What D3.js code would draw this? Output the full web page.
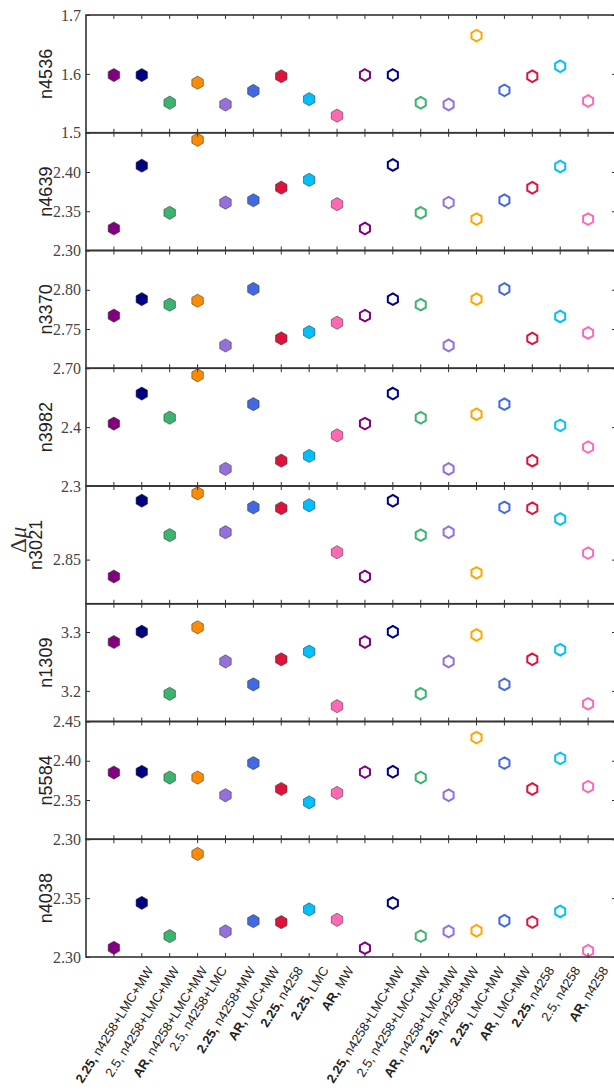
<!DOCTYPE html>
<html>
<head>
<meta charset="utf-8">
<script src="https://cdn.jsdelivr.net/npm/d3@7"></script>
<style>
    body { margin: 0; background: #fff; }
    svg { display: block; }
    .tick text { font-family: "Liberation Serif", "DejaVu Serif", serif; font-size: 16px; fill: #444; }
    .tick line { stroke: #333; }
</style>
</head>
<body>
<script>
// DATA //
const xLabels = [
    '2.25, n4258+LMC+MW', '2.5, n4258+LMC+MW', 'AR, n4258+LMC+MW', '2.5, n4258+LMC',
    '2.25, n4258+MW', 'AR, LMC+MW', '2.25, n4258', '2.25, LMC', 'AR, MW',
    '2.25, n4258+LMC+MW', '2.5, n4258+LMC+MW', 'AR, n4258+LMC+MW', '2.25, n4258+MW',
    '2.25, LMC+MW', 'AR, LMC+MW', '2.25, n4258', '2.5, n4258', 'AR, n4258'
];
const markerColors = [
    '#800080', '#000080', '#3cb371', '#ff8c00', '#9370db', '#4169e1', '#dc143c', '#00bfff', '#ff69b4',
    '#800080', '#000080', '#3cb371', '#9370db', '#ffa500', '#4169e1', '#dc143c', '#00bfff', '#ff69b4'
];
const panelNames = ['n4536', 'n4639', 'n3370', 'n3982', 'n3021', 'n1309', 'n5584', 'n4038'];

const n4536 = [1.598, 1.598, 1.551, 1.585, 1.548, 1.571, 1.596, 1.557, 1.529,
    1.598, 1.598, 1.551, 1.548, 1.665, 1.572, 1.596, 1.613, 1.554];
const n4639 = [2.328, 2.408, 2.348, 2.441, 2.361, 2.364, 2.380, 2.390, 2.359,
    2.328, 2.409, 2.348, 2.361, 2.340, 2.364, 2.380, 2.407, 2.340];
const n3370 = [2.767, 2.788, 2.781, 2.786, 2.729, 2.801, 2.738, 2.746, 2.758,
    2.767, 2.788, 2.781, 2.729, 2.788, 2.801, 2.738, 2.766, 2.745];
const n3982 = [2.406, 2.457, 2.416, 2.488, 2.329, 2.439, 2.343, 2.351, 2.386,
    2.406, 2.457, 2.416, 2.329, 2.422, 2.439, 2.343, 2.403, 2.366];
const n3021 = [2.8385, 2.890, 2.8666, 2.895, 2.8686, 2.8855, 2.8849, 2.8869, 2.855,
    2.8385, 2.890, 2.8666, 2.8686, 2.841, 2.8855, 2.8849, 2.8776, 2.8544];
const n1309 = [3.283, 3.3005, 3.195, 3.308, 3.250, 3.211, 3.2536, 3.2666, 3.174,
    3.283, 3.3005, 3.195, 3.250, 3.295, 3.211, 3.2536, 3.270, 3.178];
const n5584 = [2.385, 2.386, 2.3786, 2.3786, 2.356, 2.397, 2.364, 2.347, 2.359,
    2.3855, 2.386, 2.3786, 2.356, 2.4295, 2.397, 2.364, 2.403, 2.367];
const n4038 = [2.3078, 2.346, 2.3177, 2.3875, 2.3217, 2.3305, 2.3296, 2.3404, 2.3316,
    2.3075, 2.3458, 2.3177, 2.3217, 2.3223, 2.3308, 2.3296, 2.3387, 2.3053];
const panelValues = [n4536, n4639, n3370, n3982, n3021, n1309, n5584, n4038];

// y limits and tick labels of each panel
const yLimits = [[1.5, 1.7], [2.30, 2.45], [2.70, 2.85], [2.3, 2.5],
    [2.82, 2.90], [3.148, 3.348], [2.30, 2.45], [2.30, 2.40]];
const yTickLabels = [['1.5', '1.6', '1.7'], ['2.30', '2.35', '2.40'], ['2.70', '2.75', '2.80'], ['2.3', '2.4'],
    ['2.85'], ['3.2', '3.3'], ['2.30', '2.35', '2.40', '2.45'], ['2.30', '2.35']];

// LAYOUT //
const W = 614, H = 1090;
const plotLeft = 86, plotRight = 616, plotTop = 15, plotBottom = 957;
const panelH = (plotBottom - plotTop) / panelNames.length;
const nFilled = 9;

const svg = d3.select('body').append('svg')
    .attr('width', W)
    .attr('height', H);

const x = d3.scaleLinear().domain([-1, xLabels.length]).range([plotLeft, plotRight]);

// pointy-top hexagon like matplotlib 'h'
function hexagon(r) {
    const p = d3.path();
    for (let k = 0; k < 6; k++) {
        const a = (-90 + k * 60) * Math.PI / 180;
        if (k === 0) p.moveTo(r * Math.cos(a), r * Math.sin(a));
        else p.lineTo(r * Math.cos(a), r * Math.sin(a));
    }
    p.closePath();
    return p.toString();
}

panelValues.forEach(function (vals, p) {
    const y0 = plotTop + p * panelH;
    const g = svg.append('g').attr('transform', `translate(0, ${y0})`);
    const y = d3.scaleLinear().domain(yLimits[p]).range([panelH, 0]);
    const ticks = yTickLabels[p].map(Number);

    // points
    g.selectAll('path.pt')
        .data(vals)
        .join('path')
        .attr('class', 'pt')
        .attr('d', (d, i) => i < nFilled ? hexagon(6.6) : hexagon(5.8))
        .attr('transform', (d, i) => `translate(${x(i)}, ${y(d)})`)
        .attr('fill', (d, i) => i < nFilled ? markerColors[i] : '#fff')
        .attr('stroke', (d, i) => i < nFilled ? '#333' : markerColors[i])
        .attr('stroke-opacity', (d, i) => i < nFilled ? 0.7 : 1)
        .attr('stroke-width', (d, i) => i < nFilled ? 0.8 : 2);

    // left axis with labels, right axis ticks only
    g.append('g')
        .attr('transform', `translate(${plotLeft}, 0)`)
        .call(d3.axisLeft(y).tickValues(ticks).tickSize(-4).tickPadding(5)
            .tickFormat((d, i) => yTickLabels[p][i]))
        .call(a => a.select('.domain').remove());
    g.append('g')
        .attr('transform', `translate(${plotRight}, 0)`)
        .call(d3.axisRight(y).tickValues(ticks).tickSize(-4).tickFormat(''))
        .call(a => a.select('.domain').remove());

    // x ticks on top and bottom, inward
    g.selectAll('line.xt')
        .data(d3.range(xLabels.length * 2))
        .join('line')
        .attr('class', 'xt')
        .attr('x1', d => x(d % xLabels.length))
        .attr('x2', d => x(d % xLabels.length))
        .attr('y1', d => d < xLabels.length ? 0 : panelH)
        .attr('y2', d => d < xLabels.length ? 4 : panelH - 4)
        .attr('stroke', '#333');

    // frame
    g.append('rect')
        .attr('x', plotLeft)
        .attr('y', 0)
        .attr('width', plotRight - plotLeft)
        .attr('height', panelH)
        .attr('fill', 'none')
        .attr('stroke', '#333')
        .attr('stroke-width', 1.6);

    // panel name
    svg.append('text')
        .attr('transform', `translate(${p === 4 ? 42 : 52}, ${y0 + panelH / 2}) rotate(-90)`)
        .attr('text-anchor', 'middle')
        .style('font-family', '"Liberation Sans", Arial, sans-serif')
        .style('font-size', '18px')
        .style('fill', '#222')
        .text(panelNames[p]);
});

// Delta mu label
const dmu = svg.append('text')
    .attr('transform', `translate(26, ${plotTop + 4.5 * panelH - 5}) rotate(-90)`)
    .attr('text-anchor', 'middle')
    .style('font-family', '"Liberation Serif", "DejaVu Serif", serif')
    .style('font-size', '23px')
    .style('fill', '#333');
dmu.append('tspan').text('Δ');
dmu.append('tspan').style('font-style', 'italic').text('μ');

// x labels, rotated, centred under ticks
const ang = 58, rad = ang * Math.PI / 180, labelSize = 13;
svg.append('g')
    .selectAll('text')
    .data(xLabels)
    .join('text')
    .attr('text-anchor', 'middle')
    .attr('dominant-baseline', 'central')
    .style('font-family', '"Liberation Sans", Arial, sans-serif')
    .style('font-size', labelSize + 'px')
    .style('fill', '#222')
    .each(function (d) {
        const parts = d.split(', ');
        const t = d3.select(this);
        t.append('tspan').style('font-weight', parts[0] === '2.5' ? 'normal' : 'bold').text(parts[0] + ',');
        t.append('tspan').text(' ' + parts[1]);
    })
    .attr('transform', function (d, i) {
        const L = this.getComputedTextLength();
        const h = L * Math.sin(rad) + labelSize * Math.cos(rad);
        return `translate(${x(i)}, ${plotBottom + 7 + h / 2}) rotate(${-ang})`;
    });
</script>
</body>
</html>
